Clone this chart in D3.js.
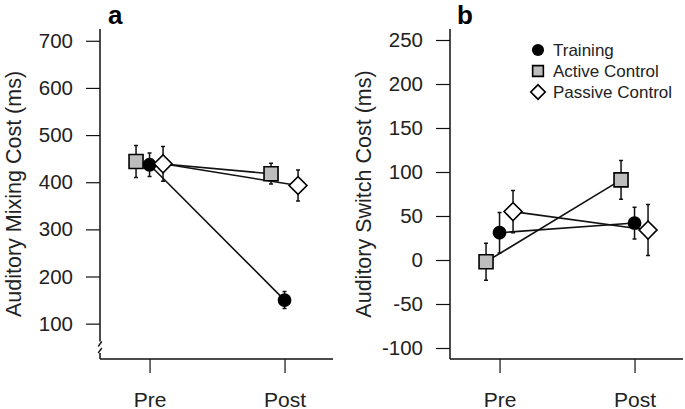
<!DOCTYPE html>
<html><head><meta charset="utf-8">
<script src="https://cdn.jsdelivr.net/npm/d3@7"></script>
<style>
html,body{margin:0;padding:0;background:#fff;}
svg{display:block;font-family:"Liberation Sans",Arial,sans-serif;}
</style></head>
<body>
<svg id="chart" width="685" height="409"></svg>
<script>
// ---- data ----
const groups = ["Training", "Active Control", "Passive Control"];
const phases = ["Pre", "Post"];
const groupOffsets = [0, -0.1, 0.1];
const mixingMeans = [[437, 150], [444, 418], [439, 393]];
const mixingErrs  = [[25, 18], [34, 22], [37, 33]];
const switchMeans = [[31, 42], [-2, 91], [55, 34]];
const switchErrs  = [[23, 18], [21, 22], [24, 29]];
const mixingTicks = [100, 200, 300, 400, 500, 600, 700];
const switchTicks = [-100, -50, 0, 50, 100, 150, 200, 250];

const svg = d3.select("#chart");
const ink = "#111";
const txt = "#222";

const symbolFor = [d3.symbolCircle, d3.symbolSquare, d3.symbolSquare];
const rotFor = [0, 0, 45];
const fillFor = ["#000", "#bdbdbd", "#fff"];
const sizeFor = [150, 196, 160];

function panel(opts) {
  const g = svg.append("g").attr("transform", `translate(${opts.left},0)`);
  const W = 233;
  const x = d3.scaleLinear().domain([-0.367, 1.359]).range([0, W]);
  const y = d3.scaleLinear().domain(opts.yDomain).range([359, 29]);

  const ya = d3.axisLeft(y).tickValues(opts.ticks).tickSize(14).tickPadding(13).tickFormat(d => String(d));
  const yg = g.append("g").call(ya);
  yg.select(".domain").remove();
  yg.selectAll("line").attr("stroke", ink).attr("stroke-width", 1.2);
  yg.selectAll("text").attr("font-size", 20.5).attr("fill", txt).attr("font-family", "Liberation Sans, Arial, sans-serif");

  const top = y.range()[1], bot = y.range()[0];
  if (opts.brk) {
    g.append("line").attr("x1", 0).attr("x2", 0).attr("y1", top).attr("y2", 341.5).attr("stroke", ink).attr("stroke-width", 1.5);
    g.append("line").attr("x1", 0).attr("x2", 0).attr("y1", 353).attr("y2", bot).attr("stroke", ink).attr("stroke-width", 1.5);
    g.append("path").attr("d", "M1.8,341.5L-1.8,346.5M1.8,348L-1.8,353").attr("stroke", ink).attr("stroke-width", 1.3).attr("fill", "none");
  } else {
    g.append("line").attr("x1", 0).attr("x2", 0).attr("y1", top).attr("y2", bot).attr("stroke", ink).attr("stroke-width", 1.5);
  }

  const xa = d3.axisBottom(x).tickValues([0, 1]).tickSize(14).tickPadding(0).tickFormat(i => phases[i]);
  const xg = g.append("g").attr("transform", `translate(0,${bot})`).call(xa);
  xg.select(".domain").remove();
  xg.selectAll("line").attr("stroke", ink).attr("stroke-width", 1.2);
  xg.selectAll("text").attr("font-size", 21).attr("fill", txt).attr("dy", null).attr("y", 47.5)
    .attr("font-family", "Liberation Sans, Arial, sans-serif");
  g.append("line").attr("x1", 0).attr("x2", W).attr("y1", bot).attr("y2", bot).attr("stroke", ink).attr("stroke-width", 1.5);

  g.append("text").attr("transform", `translate(${-79},${(top + bot) / 2}) rotate(-90)`)
    .attr("text-anchor", "middle").attr("font-size", 21.5).attr("fill", txt).text(opts.ylabel);

  g.append("text").attr("x", opts.letterDx).attr("y", 24).attr("font-size", 26).attr("font-weight", "bold")
    .attr("fill", "#000").text(opts.letter);

  groups.forEach((gr, i) => {
    g.append("line")
      .attr("x1", x(0 + groupOffsets[i])).attr("y1", y(opts.means[i][0]))
      .attr("x2", x(1 + groupOffsets[i])).attr("y2", y(opts.means[i][1]))
      .attr("stroke", ink).attr("stroke-width", 1.6);
  });
  groups.forEach((gr, i) => {
    [0, 1].forEach(p => {
      const cx = x(p + groupOffsets[i]);
      const m = opts.means[i][p], e = opts.errs[i][p];
      g.append("path")
        .attr("d", `M${cx},${y(m - e)}V${y(m + e)}M${cx - 2},${y(m + e)}H${cx + 2}M${cx - 2},${y(m - e)}H${cx + 2}`)
        .attr("stroke", ink).attr("stroke-width", 1.5).attr("fill", "none");
    });
  });
  [1, 0, 2].forEach(i => {
    [0, 1].forEach(p => {
      g.append("path")
        .attr("d", d3.symbol(symbolFor[i], sizeFor[i])())
        .attr("transform", `translate(${x(p + groupOffsets[i])},${y(opts.means[i][p])}) rotate(${rotFor[i]})`)
        .attr("fill", fillFor[i]).attr("stroke", "#000").attr("stroke-width", i === 0 ? 0 : 1.6);
    });
  });
}

panel({left: 100, yDomain: [25, 725], ticks: mixingTicks, brk: true,
  ylabel: "Auditory Mixing Cost (ms)", letter: "a", letterDx: 8,
  means: mixingMeans, errs: mixingErrs});
panel({left: 450, yDomain: [-112.5, 262.5], ticks: switchTicks, brk: false,
  ylabel: "Auditory Switch Cost (ms)", letter: "b", letterDx: 7,
  means: switchMeans, errs: switchErrs});

const leg = svg.append("g").attr("transform", "translate(538,50)");
groups.forEach((gr, i) => {
  const row = leg.append("g").attr("transform", `translate(0,${i * 21})`);
  row.append("path").attr("d", d3.symbol(symbolFor[i], [115, 115, 105][i])())
    .attr("transform", `rotate(${rotFor[i]})`)
    .attr("fill", fillFor[i]).attr("stroke", "#000").attr("stroke-width", i === 0 ? 0 : 1.6);
  row.append("text").attr("x", 15).attr("y", 6).attr("font-size", 17).attr("fill", txt).text(gr);
});
</script>
</body></html>
